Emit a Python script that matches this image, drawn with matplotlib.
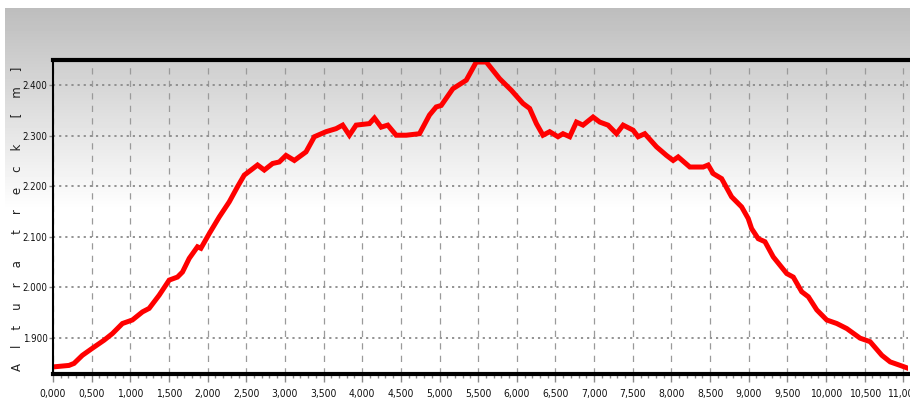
import numpy as np
import matplotlib
matplotlib.use("Agg")
import matplotlib.pyplot as plt
from matplotlib.ticker import FixedLocator, MultipleLocator, FuncFormatter

# distance along the track [km] and altitude [m]
dist_km = [0.000, 0.207, 0.272, 0.380, 0.509, 0.661, 0.768, 0.898, 1.027, 1.157,
           1.244, 1.373, 1.503, 1.610, 1.675, 1.762, 1.869, 1.913, 2.021, 2.150,
           2.280, 2.387, 2.474, 2.561, 2.646, 2.733, 2.841, 2.927, 3.014, 3.122,
           3.273, 3.381, 3.532, 3.662, 3.747, 3.834, 3.921, 4.093, 4.158, 4.245,
           4.330, 4.439, 4.569, 4.741, 4.870, 4.957, 5.022, 5.172, 5.346, 5.475,
           5.605, 5.777, 5.929, 6.079, 6.166, 6.253, 6.338, 6.425, 6.532, 6.597,
           6.684, 6.771, 6.856, 6.986, 7.073, 7.180, 7.289, 7.375, 7.504, 7.569,
           7.655, 7.807, 7.936, 8.022, 8.087, 8.238, 8.411, 8.475, 8.540, 8.649,
           8.778, 8.908, 8.993, 9.037, 9.123, 9.210, 9.317, 9.491, 9.576, 9.685,
           9.771, 9.880, 10.009, 10.139, 10.268, 10.440, 10.570, 10.722, 10.829,
           10.959, 11.067]
altitude_m = [1842, 1845, 1849, 1865, 1879, 1895, 1908, 1928, 1935, 1951,
              1958, 1984, 2014, 2020, 2030, 2057, 2080, 2077, 2106, 2139,
              2169, 2199, 2222, 2232, 2242, 2232, 2245, 2248, 2261, 2251,
              2268, 2298, 2308, 2314, 2321, 2301, 2321, 2324, 2335, 2317,
              2321, 2301, 2301, 2304, 2341, 2357, 2360, 2393, 2410, 2446,
              2446, 2413, 2390, 2364, 2354, 2324, 2301, 2308, 2298, 2304,
              2298, 2327, 2321, 2337, 2327, 2321, 2304, 2321, 2311, 2298,
              2304, 2278, 2261, 2251, 2258, 2238, 2238, 2242, 2225, 2215,
              2179, 2159, 2136, 2116, 2096, 2090, 2060, 2027, 2020, 1991,
              1981, 1955, 1935, 1928, 1918, 1899, 1892, 1865, 1852,
              1845, 1839]

x_ticks = [i * 0.5 for i in range(23)]
y_ticks = [1900, 2000, 2100, 2200, 2300, 2400]
y_tick_labels = ["1.900", "2.000", "2.100", "2.200", "2.300", "2.400"]
y_label = "A    l    t    u    r    a       t    r    e    c    k       [    m    ]"

fig = plt.figure(figsize=(9.10, 4.17), dpi=100)
fig.patch.set_facecolor("white")

# grey-to-white window background
bg = fig.add_axes([5 / 910, 0, 905 / 910, 409 / 417], zorder=-1)
rows = np.arange(409)
shade = np.clip(189 + (255 - 189) * rows / 202, 0, 255) / 255
grad = np.repeat(shade[:, None], 2, axis=1)
bg.imshow(grad, cmap="gray", vmin=0, vmax=1, aspect="auto",
          extent=[0, 1, 0, 1])
bg.set_axis_off()

ax = fig.add_axes([53 / 910, 43 / 417, 855 / 910, 314 / 417])
ax.patch.set_alpha(0)

ax.plot(dist_km, altitude_m, color="#ff0000", lw=3.6, solid_joinstyle="miter",
        zorder=2)

ax.set_xlim(0, 11.06)
ax.set_ylim(1828, 2450)

ax.xaxis.set_major_locator(FixedLocator(x_ticks))
ax.xaxis.set_minor_locator(MultipleLocator(0.1))
ax.xaxis.set_major_formatter(FuncFormatter(lambda v, p: f"{v:.3f}".replace(".", ",")))
ax.set_yticks(y_ticks)
ax.set_yticklabels(y_tick_labels)

ax.tick_params(axis="x", which="major", length=6, width=1, color="#8a8a8a",
               pad=5, labelsize=7.5, labelcolor="#111111")
ax.tick_params(axis="x", which="minor", length=3, width=1, color="#8a8a8a")
ax.tick_params(axis="y", which="major", length=3, width=1, color="#8a8a8a",
               pad=1, labelsize=7, labelcolor="#111111")
for lab in ax.get_xticklabels() + ax.get_yticklabels():
    lab.set_family("DejaVu Sans")
    lab.set_fontstretch("condensed")

ax.grid(axis="x", which="major", color="#9a9a9a", lw=0.9, ls=(0, (5, 5)))
ax.grid(axis="y", which="major", color="#8a8a8a", lw=1.3, ls=(0, (1.2, 2.2)))

ax.spines["right"].set_visible(False)
ax.spines["top"].set_linewidth(3)
ax.spines["bottom"].set_linewidth(3)
ax.spines["left"].set_linewidth(1.5)
for s in ax.spines.values():
    s.set_color("black")
    s.set_zorder(3)

fig.text(17 / 910, (417 - 219) / 417, y_label, rotation=90, ha="center",
         va="center", fontsize=8.5, color="#222222", family="DejaVu Sans")

fig.savefig("out.png", dpi=100)
